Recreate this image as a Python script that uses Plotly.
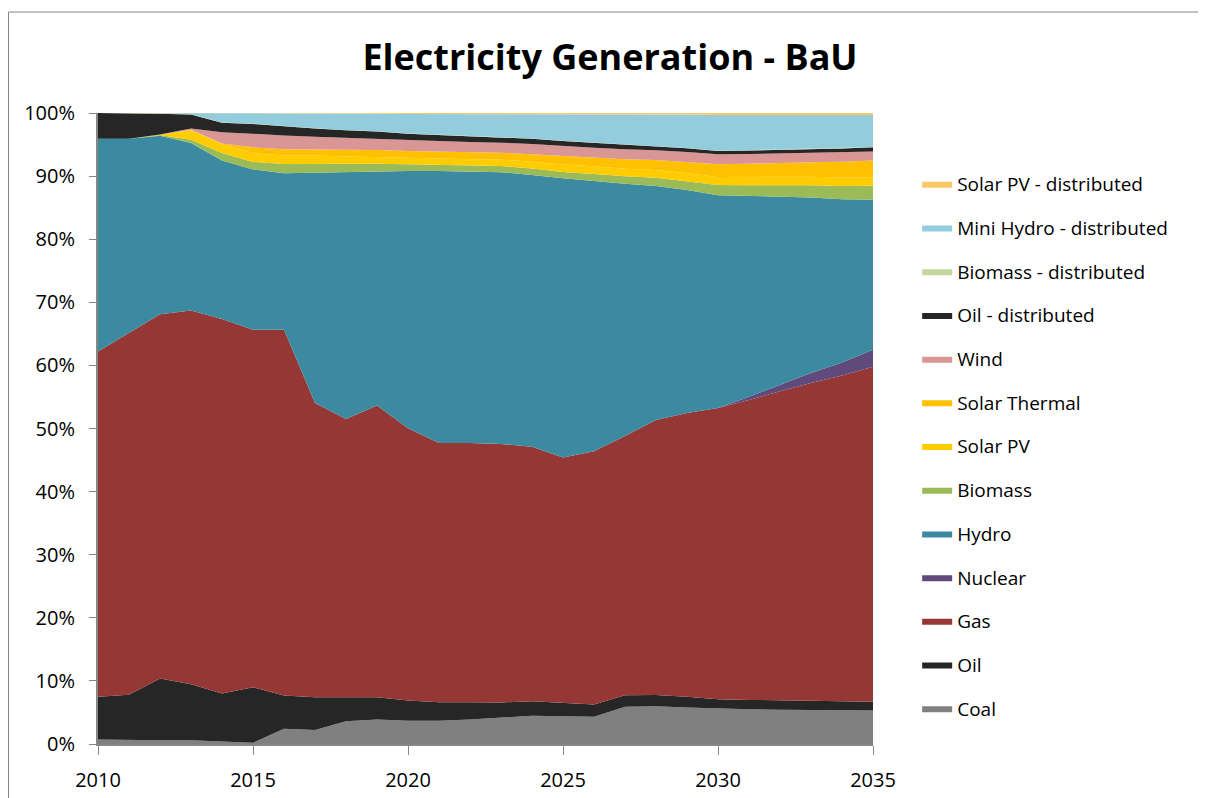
import plotly.graph_objects as go

years = list(range(2010, 2036))

coal = [0.7, 0.6, 0.6, 0.6, 0.45, 0.2, 2.4, 2.2, 3.6, 3.9, 3.7, 3.7, 3.9,
        4.2, 4.5, 4.4, 4.3, 5.9, 6.0, 5.8, 5.6, 5.5, 5.45, 5.4, 5.35, 5.3]
oil = [6.8, 7.2, 9.8, 8.9, 7.55, 8.8, 5.3, 5.2, 3.8, 3.5, 3.2, 2.9, 2.7,
       2.4, 2.3, 2.1, 1.95, 1.8, 1.75, 1.7, 1.5, 1.5, 1.5, 1.5, 1.45, 1.4]
gas = [54.7, 57.4, 57.7, 59.3, 59.4, 56.7, 58.0, 46.6, 44.1, 46.2, 43.1, 41.1, 41.1,
       41.0, 40.5, 38.9, 40.1, 41.0, 43.6, 45.1, 46.3, 47.6, 49.0, 50.3, 51.7, 53.1]
nuclear = [0, 0, 0, 0, 0, 0, 0, 0, 0, 0, 0, 0, 0,
           0, 0, 0, 0, 0, 0, 0, 0, 0.5, 1.0, 1.6, 2.1, 2.7]
hydro = [33.7, 30.7, 28.3, 26.6, 25.1, 25.4, 24.8, 36.5, 39.1, 37.1, 40.7, 43.1, 43.0,
         43.1, 43.3, 44.2, 42.8, 39.9, 37.1, 35.4, 33.8, 31.9, 29.9, 27.8, 25.9, 23.8]
biomass = [0, 0, 0.1, 0.5, 1.2, 1.2, 1.45, 1.4, 1.3, 1.2, 1.1, 1.0, 1.0,
           1.0, 1.0, 1.0, 1.1, 1.2, 1.3, 1.4, 1.6, 1.7, 1.8, 1.95, 2.1, 2.2]
solar_pv = [0, 0, 0.1, 1.5, 1.4, 1.4, 1.35, 1.3, 1.2, 1.1, 1.0, 1.0, 0.95,
            1.0, 1.1, 1.2, 1.2, 1.2, 1.2, 1.3, 1.3, 1.3, 1.3, 1.35, 1.35, 1.35]
solar_thermal = [0, 0, 0, 0.1, 0.1, 0.9, 1.0, 1.0, 1.05, 1.1, 1.1, 1.1, 1.15,
                 1.1, 1.2, 1.35, 1.4, 1.5, 1.6, 1.8, 2.0, 2.1, 2.2, 2.3, 2.5, 2.65]
wind = [0, 0, 0, 0.2, 1.8, 2.1, 2.2, 2.0, 1.9, 1.8, 1.7, 1.65, 1.6,
        1.6, 1.6, 1.55, 1.55, 1.55, 1.55, 1.55, 1.6, 1.55, 1.5, 1.5, 1.5, 1.45]
oil_dist = [4.1, 4.1, 3.3, 2.2, 1.5, 1.6, 1.4, 1.3, 1.2, 1.1, 1.0, 0.95, 0.9,
            0.9, 0.85, 0.8, 0.75, 0.7, 0.65, 0.6, 0.5, 0.55, 0.55, 0.55, 0.6, 0.65]
biomass_dist = [0, 0, 0.05, 0.05, 0.05, 0.05, 0.05, 0.05, 0.05, 0.05, 0.05, 0.05, 0.05,
                0.05, 0.05, 0.05, 0.05, 0.05, 0.05, 0.05, 0.05, 0.05, 0.05, 0.05, 0.05, 0.05]
mini_hydro_dist = [0, 0, 0, 0.1, 1.4, 1.6, 2.0, 2.3, 2.6, 2.8, 3.1, 3.3, 3.5,
                   3.6, 3.9, 4.2, 4.5, 4.8, 5.0, 5.3, 5.7, 5.6, 5.5, 5.4, 5.3, 5.1]
solar_pv_dist = [0, 0, 0.05, 0.1, 0.1, 0.1, 0.1, 0.1, 0.1, 0.1, 0.15, 0.15, 0.15,
                 0.15, 0.15, 0.2, 0.2, 0.2, 0.2, 0.25, 0.3, 0.3, 0.3, 0.3, 0.3, 0.3]

series = [
    ('Coal', coal, '#808080'),
    ('Oil', oil, '#262626'),
    ('Gas', gas, '#953735'),
    ('Nuclear', nuclear, '#604A7B'),
    ('Hydro', hydro, '#3B8AA0'),
    ('Biomass', biomass, '#9BBB59'),
    ('Solar PV', solar_pv, '#FFCC00'),
    ('Solar Thermal', solar_thermal, '#FFC000'),
    ('Wind', wind, '#D99694'),
    ('Oil - distributed', oil_dist, '#262626'),
    ('Biomass - distributed', biomass_dist, '#C3D69B'),
    ('Mini Hydro - distributed', mini_hydro_dist, '#93CDDD'),
    ('Solar PV - distributed', solar_pv_dist, '#FAC865'),
]

fig = go.Figure()
for i, (name, vals, color) in enumerate(series):
    # stacked bottom-up, legend listed top-down like Excel
    fig.add_trace(go.Scatter(
        x=years, y=vals, name=name, mode='lines',
        stackgroup='one', groupnorm='percent',
        line=dict(width=0, color=color), fillcolor=color,
        legendgroup=name, legendrank=len(series) - i,
    ))

axis_style = dict(showline=True, linecolor='#868686', linewidth=2, ticks='outside',
                  tickcolor='#868686', showgrid=False, zeroline=False,
                  automargin=False, tickfont=dict(size=20))

fig.update_layout(
    width=1198, height=790,
    font=dict(family='Open Sans, sans-serif', size=19, color='#000000'),
    title=dict(text='<b>Electricity Generation - BaU</b>', x=0.5025, xanchor='center',
               y=0.937, yanchor='middle', font=dict(size=36)),
    margin=dict(l=90, r=333, t=105, b=54),
    paper_bgcolor='white', plot_bgcolor='white',
    showlegend=True,
    legend=dict(traceorder='grouped', tracegroupgap=16,
                x=1.057, xanchor='left', y=0.9176, yanchor='top',
                font=dict(size=19), itemwidth=30),
    xaxis=dict(range=[2010, 2035], tickvals=[2010, 2015, 2020, 2025, 2030, 2035],
               ticklen=9, ticklabelstandoff=8, **axis_style),
    yaxis=dict(range=[0, 100], tickvals=list(range(0, 101, 10)),
               ticktext=[f'{v}%' for v in range(0, 101, 10)],
               ticklen=7, ticklabelstandoff=10, **axis_style),
    shapes=[dict(type='rect', xref='paper', yref='paper',
                 x0=-0.1155, x1=1.6, y0=-0.3, y1=1.16,
                 line=dict(color='#868686', width=1))],
)

fig.write_html('out.html')
